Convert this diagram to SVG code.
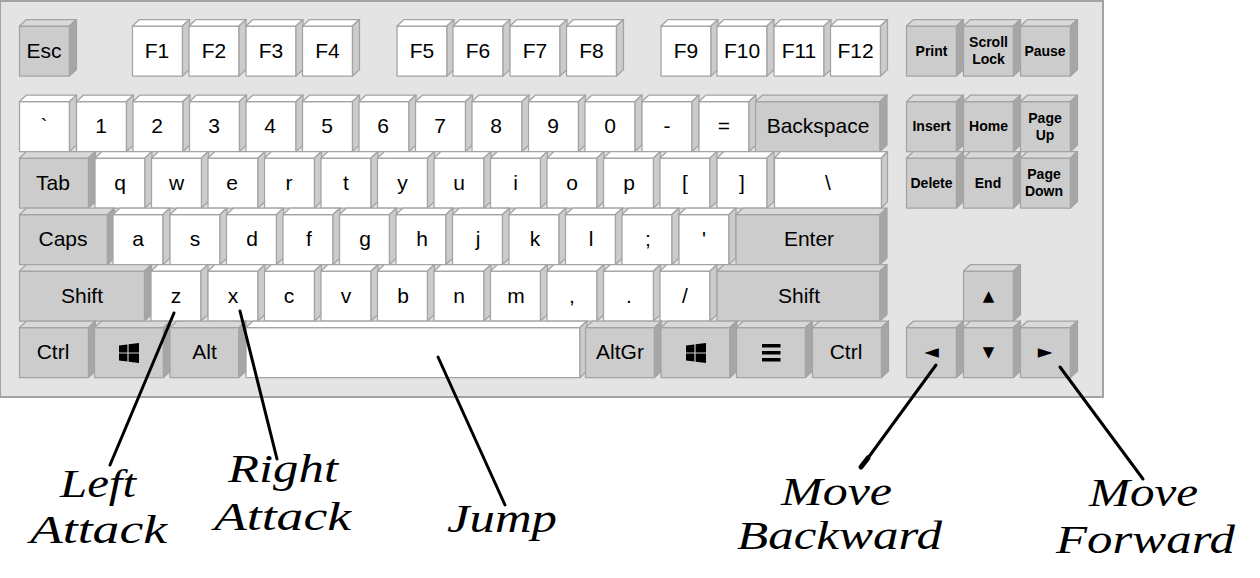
<svg xmlns="http://www.w3.org/2000/svg" width="1260" height="578" viewBox="0 0 1260 578">
<style>
.f{stroke:#a3a3a3;stroke-width:1.25;stroke-linejoin:round}
.gf{fill:#cccccc}.gt{fill:#d9d9d9}.gs{fill:#a6a6a6}
.wf{fill:#ffffff}.wt{fill:#ffffff}.ws{fill:#cccccc}
text{font-family:"Liberation Sans",Arial,sans-serif;fill:#000;text-anchor:middle}
.k{font-size:21px}
.n{font-size:14px;font-weight:bold}
.a{font-family:"DejaVu Sans",sans-serif;font-size:15px}
.b{font-family:"DejaVu Sans",sans-serif;font-size:19px}
.s{font-family:"Liberation Serif","DejaVu Serif",serif;font-style:italic;font-size:40px;text-anchor:start}
.c{stroke:#000;stroke-width:3;fill:none;stroke-linecap:round}
</style>
<defs>
<g id="w50"><rect class="f wf" width="50" height="50"/><path class="f wt" d="M0 0l7-6.5h50l-7 6.5z"/><path class="f ws" d="M50 0l7-6.5v50l-7 6.5z"/></g>
<g id="g50"><rect class="f gf" width="50" height="50"/><path class="f gt" d="M0 0l7-6.5h50l-7 6.5z"/><path class="f gs" d="M50 0l7-6.5v50l-7 6.5z"/></g>
<g id="g69"><rect class="f gf" width="69" height="50"/><path class="f gt" d="M0 0l7-6.5h69l-7 6.5z"/><path class="f gs" d="M69 0l7-6.5v50l-7 6.5z"/></g>
<g id="win"><path fill="#000" d="M0 2.600l8.400-1.200v8H0zM9.600 1.200L20 0v9.400H9.600zM0 10.600h8.400v8L0 17.400zM9.600 10.600H20V20l-10.400-1.200z"/></g>
</defs>
<rect x="0" y="1" width="1103" height="396" fill="#e4e4e4" stroke="#a3a3a3" stroke-width="2"/>
<g id="keys">
<g id="key-esc"><use href="#g50" x="19.5" y="26"/><text class="k" x="44" y="58">Esc</text></g>
<g id="key-f1"><use href="#w50" x="132.5" y="26"/><text class="k" x="157" y="58">F1</text></g>
<g id="key-f2"><use href="#w50" x="189" y="26"/><text class="k" x="214" y="58">F2</text></g>
<g id="key-f3"><use href="#w50" x="246" y="26"/><text class="k" x="271" y="58">F3</text></g>
<g id="key-f4"><use href="#w50" x="302.5" y="26"/><text class="k" x="327.5" y="58">F4</text></g>
<g id="key-f5"><use href="#w50" x="397" y="26"/><text class="k" x="422" y="58">F5</text></g>
<g id="key-f6"><use href="#w50" x="453" y="26"/><text class="k" x="478" y="58">F6</text></g>
<g id="key-f7"><use href="#w50" x="510" y="26"/><text class="k" x="535" y="58">F7</text></g>
<g id="key-f8"><use href="#w50" x="566.5" y="26"/><text class="k" x="591.5" y="58">F8</text></g>
<g id="key-f9"><use href="#w50" x="661" y="26"/><text class="k" x="686" y="58">F9</text></g>
<g id="key-f10"><use href="#w50" x="717" y="26"/><text class="k" x="742" y="58">F10</text></g>
<g id="key-f11"><use href="#w50" x="774" y="26"/><text class="k" x="799" y="58">F11</text></g>
<g id="key-f12"><use href="#w50" x="830.5" y="26"/><text class="k" x="855.5" y="58">F12</text></g>
<g id="key-print"><use href="#g50" x="906.5" y="26"/><text class="n" x="931.5" y="56">Print</text></g>
<g id="key-scroll"><use href="#g50" x="963.5" y="26"/><text class="n" x="988.5" y="47">Scroll</text><text class="n" x="988.5" y="64">Lock</text></g>
<g id="key-pause"><use href="#g50" x="1020.5" y="26"/><text class="n" x="1045" y="56">Pause</text></g>

<g id="key-grave"><use href="#w50" x="19.5" y="101.5"/><text class="k" x="44" y="133">`</text></g>
<g id="key-1"><use href="#w50" x="76.5" y="101.5"/><text class="k" x="101" y="133">1</text></g>
<g id="key-2"><use href="#w50" x="133" y="101.5"/><text class="k" x="157" y="133">2</text></g>
<g id="key-3"><use href="#w50" x="189.5" y="101.5"/><text class="k" x="214" y="133">3</text></g>
<g id="key-4"><use href="#w50" x="246" y="101.5"/><text class="k" x="270" y="133">4</text></g>
<g id="key-5"><use href="#w50" x="302.5" y="101.5"/><text class="k" x="327" y="133">5</text></g>
<g id="key-6"><use href="#w50" x="359" y="101.5"/><text class="k" x="383" y="133">6</text></g>
<g id="key-7"><use href="#w50" x="415.5" y="101.5"/><text class="k" x="440" y="133">7</text></g>
<g id="key-8"><use href="#w50" x="472" y="101.5"/><text class="k" x="496" y="133">8</text></g>
<g id="key-9"><use href="#w50" x="528.5" y="101.5"/><text class="k" x="553" y="133">9</text></g>
<g id="key-0"><use href="#w50" x="585" y="101.5"/><text class="k" x="610" y="133">0</text></g>
<g id="key-minus"><use href="#w50" x="642" y="101.5"/><text class="k" x="667" y="133">-</text></g>
<g id="key-equals"><use href="#w50" x="699" y="101.5"/><text class="k" x="724" y="133">=</text></g>
<g id="key-backspace"><rect class="f gf" x="755.5" y="101.5" width="124.5" height="50"/><path class="f gt" d="M755.5 101.5l7-6.5h124.5l-7 6.5z"/><path class="f gs" d="M880 101.5l7-6.5v50l-7 6.5z"/><text class="k" x="818" y="133">Backspace</text></g>
<g id="key-insert"><use href="#g50" x="906.5" y="101.5"/><text class="n" x="931.5" y="131">Insert</text></g>
<g id="key-home"><use href="#g50" x="963.5" y="101.5"/><text class="n" x="988.5" y="131">Home</text></g>
<g id="key-pageup"><use href="#g50" x="1020.5" y="101.5"/><text class="n" x="1045" y="123">Page</text><text class="n" x="1045" y="140">Up</text></g>

<g id="key-tab"><use href="#g69" x="19.5" y="158"/><text class="k" x="53" y="190">Tab</text></g>
<g id="key-q"><use href="#w50" x="95" y="158"/><text class="k" x="120" y="190">q</text></g>
<g id="key-w"><use href="#w50" x="151.5" y="158"/><text class="k" x="176.5" y="190">w</text></g>
<g id="key-e"><use href="#w50" x="208" y="158"/><text class="k" x="232" y="190">e</text></g>
<g id="key-r"><use href="#w50" x="264.5" y="158"/><text class="k" x="289" y="190">r</text></g>
<g id="key-t"><use href="#w50" x="321" y="158"/><text class="k" x="346" y="190">t</text></g>
<g id="key-y"><use href="#w50" x="377.5" y="158"/><text class="k" x="402.5" y="190">y</text></g>
<g id="key-u"><use href="#w50" x="434" y="158"/><text class="k" x="459" y="190">u</text></g>
<g id="key-i"><use href="#w50" x="490.5" y="158"/><text class="k" x="515.5" y="190">i</text></g>
<g id="key-o"><use href="#w50" x="547" y="158"/><text class="k" x="572" y="190">o</text></g>
<g id="key-p"><use href="#w50" x="603.5" y="158"/><text class="k" x="629" y="190">p</text></g>
<g id="key-lbracket"><use href="#w50" x="660" y="158"/><text class="k" x="685" y="190">[</text></g>
<g id="key-rbracket"><use href="#w50" x="717" y="158"/><text class="k" x="742" y="190">]</text></g>
<g id="key-backslash"><rect class="f wf" x="774.5" y="158" width="107" height="50"/><path class="f wt" d="M774.500 158l6-6.500h107l-6 6.500z"/><path class="f ws" d="M881.500 158l6-6.500v50l-6 6.500z"/><text class="k" x="828" y="190">\</text></g>
<g id="key-delete"><use href="#g50" x="906.5" y="158"/><text class="n" x="931.5" y="188">Delete</text></g>
<g id="key-end"><use href="#g50" x="963.5" y="158"/><text class="n" x="988" y="188">End</text></g>
<g id="key-pagedown"><use href="#g50" x="1020.5" y="158"/><text class="n" x="1044" y="179">Page</text><text class="n" x="1044" y="196">Down</text></g>

<g id="key-caps"><rect class="f gf" x="19.5" y="214.5" width="88" height="50"/><path class="f gt" d="M19.5 214.500l7-6.500h88l-7 6.500z"/><path class="f gs" d="M107.500 214.500l7-6.500v50l-7 6.500z"/><text class="k" x="63" y="246">Caps</text></g>
<g id="key-a"><use href="#w50" x="113" y="214.5"/><text class="k" x="138" y="246">a</text></g>
<g id="key-s"><use href="#w50" x="170" y="214.5"/><text class="k" x="195" y="246">s</text></g>
<g id="key-d"><use href="#w50" x="226.5" y="214.5"/><text class="k" x="252" y="246">d</text></g>
<g id="key-f"><use href="#w50" x="283" y="214.5"/><text class="k" x="309" y="246">f</text></g>
<g id="key-g"><use href="#w50" x="339.5" y="214.5"/><text class="k" x="365" y="246">g</text></g>
<g id="key-h"><use href="#w50" x="396" y="214.5"/><text class="k" x="422" y="246">h</text></g>
<g id="key-j"><use href="#w50" x="452.5" y="214.5"/><text class="k" x="478" y="246">j</text></g>
<g id="key-k"><use href="#w50" x="509" y="214.5"/><text class="k" x="535" y="246">k</text></g>
<g id="key-l"><use href="#w50" x="565.5" y="214.5"/><text class="k" x="591" y="246">l</text></g>
<g id="key-semicolon"><use href="#w50" x="622" y="214.5"/><text class="k" x="648" y="246">;</text></g>
<g id="key-quote"><use href="#w50" x="679" y="214.5"/><text class="k" x="704" y="246">'</text></g>
<g id="key-enter"><rect class="f gf" x="736" y="214.5" width="144" height="50"/><path class="f gt" d="M736 214.500l7-6.500h144l-7 6.500z"/><path class="f gs" d="M880 214.500l7-6.500v50l-7 6.500z"/><text class="k" x="809" y="246">Enter</text></g>

<g id="key-lshift"><rect class="f gf" x="19.5" y="271" width="125" height="50"/><path class="f gt" d="M19.500 271l7-6.500h125l-7 6.500z"/><path class="f gs" d="M144.500 271l7-6.500v50l-7 6.500z"/><text class="k" x="82" y="303">Shift</text></g>
<g id="key-z"><use href="#w50" x="151" y="271"/><text class="k" x="176" y="303">z</text></g>
<g id="key-x"><use href="#w50" x="208" y="271"/><text class="k" x="233" y="303">x</text></g>
<g id="key-c"><use href="#w50" x="264.5" y="271"/><text class="k" x="289" y="303">c</text></g>
<g id="key-v"><use href="#w50" x="321" y="271"/><text class="k" x="346" y="303">v</text></g>
<g id="key-b"><use href="#w50" x="377.5" y="271"/><text class="k" x="403" y="303">b</text></g>
<g id="key-n"><use href="#w50" x="434" y="271"/><text class="k" x="459" y="303">n</text></g>
<g id="key-m"><use href="#w50" x="490.5" y="271"/><text class="k" x="516" y="303">m</text></g>
<g id="key-comma"><use href="#w50" x="547" y="271"/><text class="k" x="572" y="303">,</text></g>
<g id="key-period"><use href="#w50" x="603.5" y="271"/><text class="k" x="629" y="303">.</text></g>
<g id="key-slash"><use href="#w50" x="660" y="271"/><text class="k" x="685" y="303">/</text></g>
<g id="key-rshift"><rect class="f gf" x="717" y="271" width="163" height="50"/><path class="f gt" d="M717 271l7-6.500h163l-7 6.500z"/><path class="f gs" d="M880 271l7-6.500v50l-7 6.500z"/><text class="k" x="799" y="303">Shift</text></g>
<g id="key-up"><use href="#g50" x="963.5" y="271"/><text class="a" x="988.5" y="301">▲</text></g>

<g id="key-lctrl"><use href="#g69" x="19.5" y="327.5"/><text class="k" x="53" y="359">Ctrl</text></g>
<g id="key-lwin"><use href="#g69" x="94.5" y="327.5"/><use href="#win" x="119" y="343"/></g>
<g id="key-alt"><use href="#g69" x="170" y="327.5"/><text class="k" x="204.500" y="359">Alt</text></g>
<g id="key-space"><rect class="f wf" x="246" y="327.5" width="334" height="50"/><path class="f wt" d="M246 327.500l7-6.500h334l-7 6.500z"/><path class="f ws" d="M580 327.500l7-6.500v50l-7 6.500z"/></g>
<g id="key-altgr"><use href="#g69" x="585.5" y="327.5"/><text class="k" x="620" y="359">AltGr</text></g>
<g id="key-rwin"><use href="#g69" x="661" y="327.5"/><use href="#win" x="686" y="343"/></g>
<g id="key-menu"><use href="#g69" x="736.500" y="327.5"/><path fill="#000" d="M762 344h18.500v3.500H762zM762 351h18.500v3.500H762zM762 358h18.500v3.500H762z"/></g>
<g id="key-rctrl"><use href="#g69" x="812.500" y="327.5"/><text class="k" x="846" y="359">Ctrl</text></g>
<g id="key-left"><use href="#g50" x="906.5" y="327.5"/><text class="b" x="931.5" y="358">◄</text></g>
<g id="key-down"><use href="#g50" x="963.5" y="327.5"/><text class="a" x="988.5" y="357">▼</text></g>
<g id="key-right"><use href="#g50" x="1020.5" y="327.5"/><text class="b" x="1045" y="358">►</text></g>
</g>
<g id="connectors">
<path class="c" d="M174 313L110 465"/>
<path class="c" d="M240 311L277 459"/>
<path class="c" d="M438 357L505 505"/>
<path class="c" d="M936 365L868 458"/>
<path d="M868 458L861 467" stroke="#000" stroke-width="5" stroke-linecap="round"/>
<path class="c" d="M1060 367L1143 479"/>
</g>
<g id="labels">
<text class="s" x="60" y="497" textLength="76" lengthAdjust="spacingAndGlyphs">Left</text>
<text class="s" x="30" y="543" textLength="137" lengthAdjust="spacingAndGlyphs">Attack</text>
<text class="s" x="228" y="482" textLength="110" lengthAdjust="spacingAndGlyphs">Right</text>
<text class="s" x="214" y="530" textLength="137" lengthAdjust="spacingAndGlyphs">Attack</text>
<text class="s" x="447" y="532" textLength="110" lengthAdjust="spacingAndGlyphs">Jump</text>
<text class="s" x="781" y="505" textLength="111" lengthAdjust="spacingAndGlyphs">Move</text>
<text class="s" x="737" y="549" textLength="205" lengthAdjust="spacingAndGlyphs">Backward</text>
<text class="s" x="1089" y="506" textLength="109" lengthAdjust="spacingAndGlyphs">Move</text>
<text class="s" x="1056" y="553" textLength="179" lengthAdjust="spacingAndGlyphs">Forward</text>
</g>
</svg>
